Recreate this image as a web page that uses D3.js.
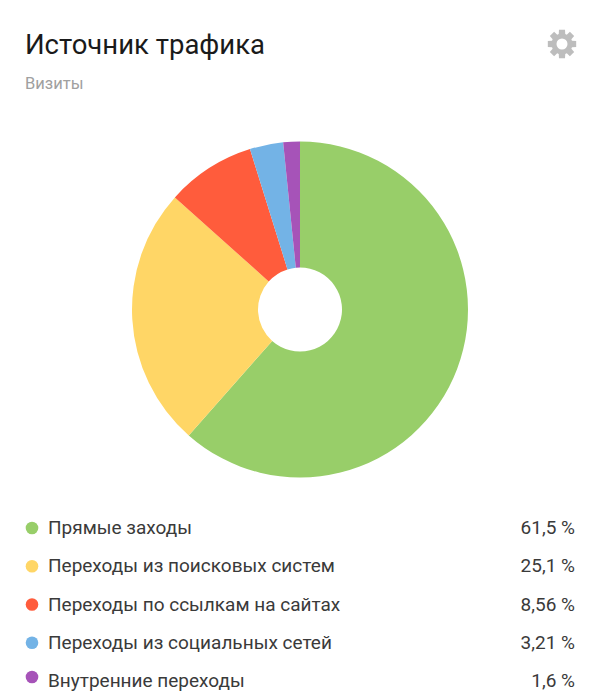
<!DOCTYPE html>
<html><head><meta charset="utf-8">
<script src="https://cdn.jsdelivr.net/npm/d3@7"></script>
<style>html,body{margin:0;padding:0;background:#fff}svg{display:block}text{font-family:Roboto,"Noto Sans",sans-serif}</style>
</head><body><svg id="c" width="600" height="700"></svg>
<script>
const categories=["Прямые заходы","Переходы из поисковых систем","Переходы по ссылкам на сайтах","Переходы из социальных сетей","Внутренние переходы"];
const values=[61.5,25.1,8.56,3.21,1.6];
const valueLabels=["61,5 %","25,1 %","8,56 %","3,21 %","1,6 %"];
const colors=["#98ce69","#ffd666","#ff5c3c","#73b3e6","#a653b8"];
const svg=d3.select("#c");
svg.append("text").attr("x",25).attr("y",54).attr("font-size",27.5).attr("fill","#1a1a1a").text("Источник трафика");
svg.append("text").attr("x",25).attr("y",89).attr("font-size",16.5).attr("fill","#a0a0a0").text("Визиты");
const pie=d3.pie().value(d=>d).sort(null);
const arc=d3.arc().innerRadius(42).outerRadius(168);
const g=svg.append("g").attr("transform","translate(300,309.5)");
g.selectAll("path").data(pie(values)).join("path").attr("d",arc).attr("fill",(d,i)=>colors[i]);
const y=d3.scalePoint().domain(categories).range([534,687]);
const rows=svg.selectAll("g.row").data(categories).join("g").attr("class","row");
rows.append("circle").attr("cx",32).attr("cy",(d,i)=>y(d)-6-(i==4?4:0)).attr("r",6.3).attr("fill",(d,i)=>colors[i]);
rows.append("text").attr("x",48).attr("y",d=>y(d)).attr("font-size",19).attr("fill","#3a3a3a").text(d=>d);
rows.append("text").attr("x",575).attr("y",d=>y(d)).attr("text-anchor","end").attr("font-size",19).attr("fill","#3a3a3a").text((d,i)=>valueLabels[i]);
// settings gear icon
const gear=d3.path(),teeth=8,cx=562,cy=44,R=14.5,r0=10.5;
for(let i=0;i<teeth;i++){
  const a=i/teeth*2*Math.PI,w=0.21;
  [[r0,a-w*1.5],[R,a-w],[R,a+w],[r0,a+w*1.5]].forEach(([rr,t],j)=>{
    const px=cx+rr*Math.sin(t),py=cy-rr*Math.cos(t);
    (i===0&&j===0)?gear.moveTo(px,py):gear.lineTo(px,py);
  });
}
gear.closePath();
gear.moveTo(cx+5.5,cy);gear.arc(cx,cy,5.5,0,2*Math.PI,true);gear.closePath();
svg.append("path").attr("d",gear.toString()).attr("fill","#bdbdbd").attr("fill-rule","evenodd");
</script></body></html>
